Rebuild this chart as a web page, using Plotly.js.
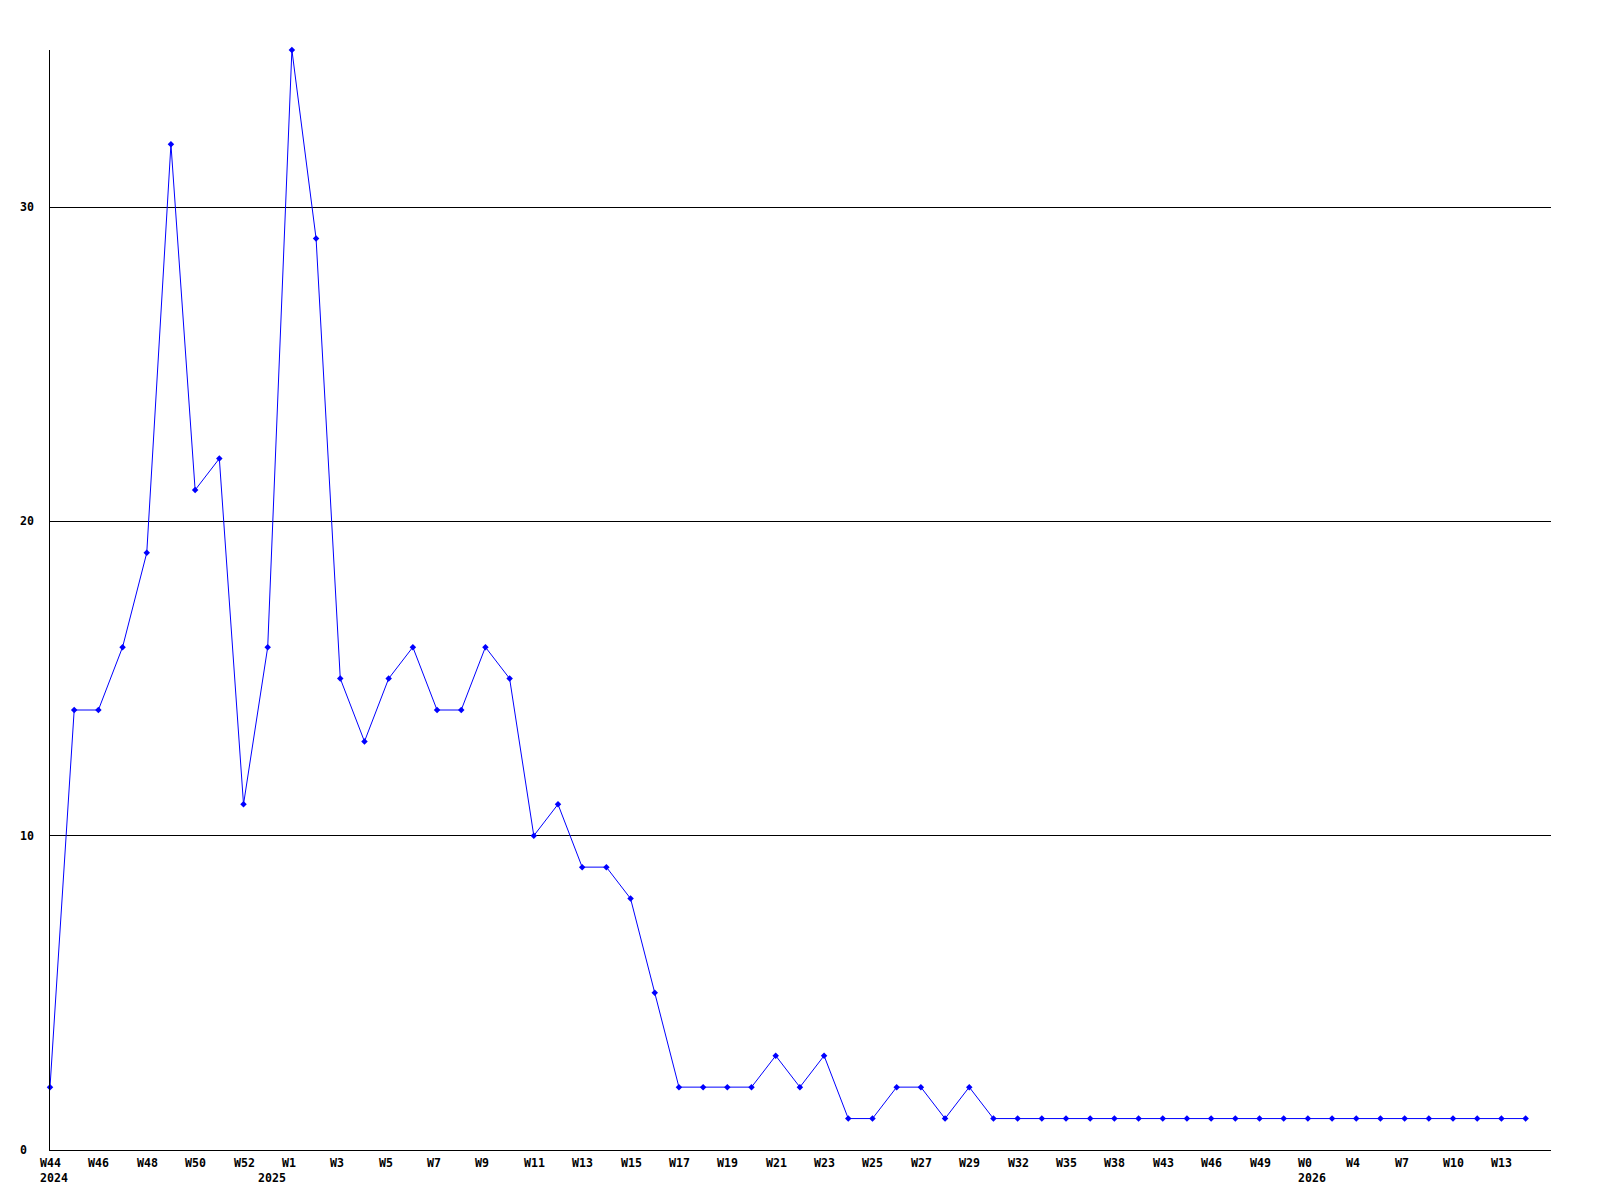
<!DOCTYPE html>
<html>
<head>
<meta charset="utf-8">
<script src="https://cdn.plot.ly/plotly-3.0.1.min.js"></script>
<style>html,body{margin:0;padding:0;background:#fff;}#chart{width:1600px;height:1200px;}</style>
</head>
<body>
<div id="chart"></div>
<script>
// Week labels per point (only every second one is printed on the axis)
const weeks = ["W44","W45","W46","W47","W48","W49","W50","W51","W52","W0",
  "W1","W2","W3","W4","W5","W6","W7","W8","W9","W10",
  "W11","W12","W13","W14","W15","W16","W17","W18","W19","W20",
  "W21","W22","W23","W24","W25","W26","W27","W28","W29","W30",
  "W32","W33","W35","W36","W38","W40","W43","W44","W46","W47",
  "W49","W51","W0","W2","W4","W5","W7","W8","W10","W11",
  "W13","W14"];
// Year label shown under the first week of each year
const years = {0:"2024", 9:"2025", 52:"2026"};
const counts = [2,14,14,16,19,32,21,22,11,16,
  35,29,15,13,15,16,14,14,16,15,
  10,11,9,9,8,5,2,2,2,2,
  3,2,3,1,1,2,2,1,2,1,
  1,1,1,1,1,1,1,1,1,1,
  1,1,1,1,1,1,1,1,1,1,
  1,1];
const yTicks = [0,10,20,30];

const idx = weeks.map((w,i)=>i);
const font = {family:"DejaVu Sans Mono", size:11.6, color:"#000"};
const annotations = [];
weeks.forEach((w,i)=>{
  if (i % 2 === 0) {
    annotations.push({x:i, xref:"x", y:0, yref:"paper", yanchor:"top", xanchor:"left",
      xshift:-12, yshift:-4, text:"<b>"+w+"</b>", showarrow:false, font:font});
  }
  if (years[i]) {
    annotations.push({x:i, xref:"x", y:0, yref:"paper", yanchor:"top", xanchor:"left",
      xshift:-12, yshift:-19, text:"<b>"+years[i]+"</b>", showarrow:false, font:font});
  }
});
yTicks.forEach(v=>{
  annotations.push({x:0, xref:"paper", y:v, yref:"y", xanchor:"left", yanchor:"middle",
    xshift:-32, text:"<b>"+v+"</b>", showarrow:false, font:font});
});

const trace = {
  x: idx, y: counts, type:"scatter", mode:"lines+markers",
  line:{color:"#0000ff", width:1},
  marker:{color:"#0000ff", symbol:"diamond", size:5},
  cliponaxis:false,
  hoverinfo:"skip"
};
const layout = {
  width:1600, height:1200,
  margin:{l:50, r:49, t:50, b:50},
  paper_bgcolor:"#fff", plot_bgcolor:"#fff",
  showlegend:false,
  xaxis:{range:[0,62.05], showgrid:false, zeroline:false, showticklabels:false, ticks:"",
    showline:true, linecolor:"#000", linewidth:1, fixedrange:true},
  yaxis:{range:[0,35], tickvals:[10,20,30], showgrid:true, gridcolor:"#000", gridwidth:1,
    zeroline:false, showticklabels:false, ticks:"", showline:true, linecolor:"#000", linewidth:1, fixedrange:true},
  annotations: annotations
};
Plotly.newPlot("chart", [trace], layout, {displayModeBar:false, staticPlot:true});
</script>
</body>
</html>
